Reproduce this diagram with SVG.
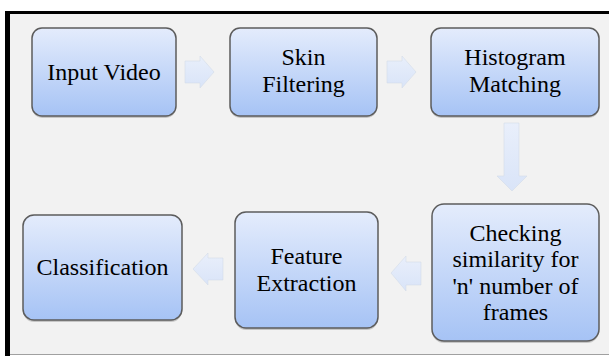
<svg xmlns="http://www.w3.org/2000/svg" width="609" height="356" viewBox="0 0 609 356">
<defs>
  <linearGradient id="boxGrad" x1="0" y1="0" x2="0" y2="1">
    <stop offset="0" stop-color="#e4ecfc"/>
    <stop offset="1" stop-color="#a6c3f5"/>
  </linearGradient>
  <linearGradient id="arrGrad" x1="0" y1="0" x2="0" y2="1">
    <stop offset="0" stop-color="#e9effb"/>
    <stop offset="1" stop-color="#d9e4f8"/>
  </linearGradient>
</defs>
<rect x="0" y="0" width="609" height="356" fill="#ffffff"/>
<rect x="10" y="14" width="599" height="340" fill="#f2f2f2"/>
<line x1="10" y1="354.5" x2="609" y2="354.5" stroke="#a0a0a0" stroke-width="1"/>
<rect x="5" y="11" width="5" height="345" fill="#000"/>
<rect x="5" y="11" width="604" height="3" fill="#000"/>

<g id="connectors" fill="url(#arrGrad)" stroke="#d4dbe8" stroke-width="0.6">
  <path d="M185,61 H200 V56 L214,72 L200,88 V83 H185 Z"/>
  <path d="M387,61 H402 V56 L416,72 L402,88 V83 H387 Z"/>
  <path d="M504,123 H519 V176 H527 L512,191 L497,176 H504 Z"/>
  <path d="M421,262 H406 V256 L391,273 L406,291 V285 H421 Z"/>
  <path d="M223,258 H208 V253 L193,269 L208,285 V280 H223 Z"/>
</g>

<g id="input-video">
  <rect x="32" y="30" width="144" height="88" rx="10" fill="#000" opacity="0.18"/>
  <rect x="32" y="28" width="144" height="88" rx="10" fill="url(#boxGrad)" stroke="#5c5c5c" stroke-width="1.5"/>
  <text x="104" y="80" font-family="'Liberation Serif'" font-size="24" text-anchor="middle">Input Video</text>
</g>
<g id="skin-filtering">
  <rect x="230" y="30" width="147" height="88" rx="10" fill="#000" opacity="0.18"/>
  <rect x="230" y="28" width="147" height="88" rx="10" fill="url(#boxGrad)" stroke="#5c5c5c" stroke-width="1.5"/>
  <text x="303.5" y="65" font-family="'Liberation Serif'" font-size="24" text-anchor="middle">Skin</text>
  <text x="303.5" y="92" font-family="'Liberation Serif'" font-size="24" text-anchor="middle">Filtering</text>
</g>
<g id="histogram-matching">
  <rect x="431" y="30" width="168" height="88" rx="10" fill="#000" opacity="0.18"/>
  <rect x="431" y="28" width="168" height="88" rx="10" fill="url(#boxGrad)" stroke="#5c5c5c" stroke-width="1.5"/>
  <text x="515" y="65" font-family="'Liberation Serif'" font-size="24" text-anchor="middle">Histogram</text>
  <text x="515" y="92" font-family="'Liberation Serif'" font-size="24" text-anchor="middle">Matching</text>
</g>
<g id="checking-similarity">
  <rect x="432" y="206" width="167" height="137" rx="12" fill="#000" opacity="0.18"/>
  <rect x="432" y="204" width="167" height="137" rx="12" fill="url(#boxGrad)" stroke="#5c5c5c" stroke-width="1.5"/>
  <text x="515.5" y="241" font-family="'Liberation Serif'" font-size="24" text-anchor="middle">Checking</text>
  <text x="515.5" y="267" font-family="'Liberation Serif'" font-size="24" text-anchor="middle">similarity for</text>
  <text x="515.5" y="294" font-family="'Liberation Serif'" font-size="24" text-anchor="middle">'n' number of</text>
  <text x="515.5" y="320" font-family="'Liberation Serif'" font-size="24" text-anchor="middle">frames</text>
</g>
<g id="feature-extraction">
  <rect x="235" y="214" width="143" height="116" rx="11" fill="#000" opacity="0.18"/>
  <rect x="235" y="212" width="143" height="116" rx="11" fill="url(#boxGrad)" stroke="#5c5c5c" stroke-width="1.5"/>
  <text x="306.5" y="264" font-family="'Liberation Serif'" font-size="24" text-anchor="middle">Feature</text>
  <text x="306.5" y="291" font-family="'Liberation Serif'" font-size="24" text-anchor="middle">Extraction</text>
</g>
<g id="classification">
  <rect x="23" y="217" width="159" height="105" rx="11" fill="#000" opacity="0.18"/>
  <rect x="23" y="215" width="159" height="105" rx="11" fill="url(#boxGrad)" stroke="#5c5c5c" stroke-width="1.5"/>
  <text x="102.5" y="275" font-family="'Liberation Serif'" font-size="24" text-anchor="middle">Classification</text>
</g>
</svg>
